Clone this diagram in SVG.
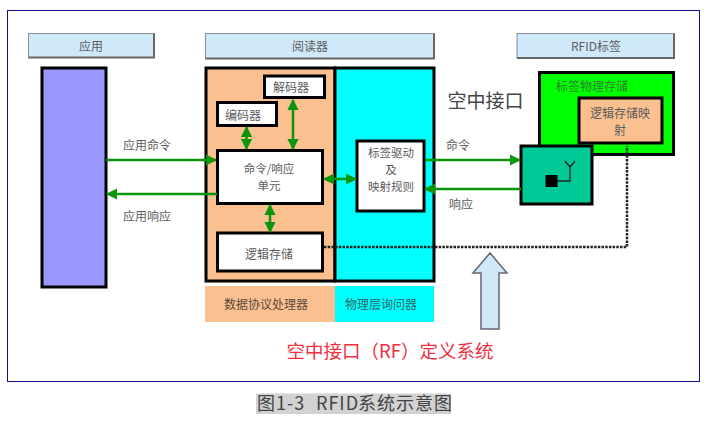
<svg xmlns="http://www.w3.org/2000/svg" width="708" height="425" viewBox="0 0 708 425">
<style>
text{font-family:"Noto Sans CJK SC","Liberation Sans",sans-serif;fill:#5c5c5c;text-anchor:middle}
.hdr{fill:#cfe8fa;stroke:#8a8f94;stroke-width:1}
.sh{fill:none;stroke:#666;stroke-width:2}
.box{fill:#fff;stroke:#000;stroke-width:3}
.blk{stroke:#000;stroke-width:3}
.c{stroke:#0a950a;stroke-width:2.500;fill:none}
.dot{stroke:#222;stroke-width:2.500;stroke-dasharray:2.500 1.200;fill:none}
.t{font-size:12px}
</style>
<defs>
<marker id="a" viewBox="0 0 10 10" refX="9" refY="5" markerWidth="4.600" markerHeight="4.600" orient="auto-start-reverse"><path d="M0 0L10 5L0 10z" fill="#0a950a"/></marker>
</defs>
<rect id="frame" x="7.500" y="10.500" width="692" height="371" fill="#fff" stroke="#10108a"/>
<g id="hdr-app"><rect class="hdr" x="28.500" y="33.500" width="125.500" height="24"/><path class="sh" d="M154 33.500V57.500H28.500"/><text class="t" x="91" y="51">应用</text></g>
<g id="hdr-reader"><rect class="hdr" x="205.500" y="33.500" width="228.500" height="25"/><path class="sh" d="M434 33.500V58.500H205.500"/><text class="t" x="310" y="51">阅读器</text></g>
<g id="hdr-tag"><rect class="hdr" x="517" y="33.500" width="157" height="24.500"/><path class="sh" d="M674 33.500V58H517"/><text class="t" x="596" y="51">RFID标签</text></g>
<g id="app"><rect class="blk" x="42" y="68" width="64" height="219" fill="#9999ff"/></g>
<g id="processor"><rect class="blk" x="206" y="68" width="129" height="213" fill="#fac090"/></g>
<g id="interrogator"><rect class="blk" x="335" y="68" width="99" height="213" fill="#00ffff"/></g>
<g id="decoder"><rect class="box" x="264.500" y="76" width="60" height="21.500"/><text class="t" x="291" y="92">解码器</text></g>
<g id="encoder"><rect class="box" x="217.500" y="102.500" width="59" height="23"/><text class="t" x="243" y="120">编码器</text></g>
<g id="cmd-unit"><rect class="box" x="217.500" y="150.500" width="105" height="53"/><text x="269" y="173" style="font-size:11.500px">命令/响应</text><text x="269" y="190" style="font-size:11.500px">单元</text></g>
<g id="logic"><rect class="box" x="217.500" y="233" width="105" height="38"/><text class="t" x="269" y="259">逻辑存储</text></g>
<g id="driver"><rect class="box" x="357" y="141" width="67" height="70"/><text x="391" y="157" style="font-size:11.500px">标签驱动</text><text x="391" y="174" style="font-size:11.500px">及</text><text x="391" y="191" style="font-size:11.500px">映射规则</text></g>
<g id="tag-mem"><rect class="blk" x="539.500" y="72.500" width="134" height="82" fill="#00ff00"/><text class="t" x="592" y="91" style="fill:#2f7f2f">标签物理存储</text></g>
<g id="logic-map"><rect class="blk" x="579" y="98" width="83" height="45" fill="#fac090"/><text class="t" x="620" y="118">逻辑存储映</text><text class="t" x="620" y="135">射</text></g>
<g id="antenna"><rect class="blk" x="521" y="146" width="71" height="58" fill="#00c896"/><rect x="545.500" y="175" width="12" height="12" fill="#000"/><path d="M557 181H570V165M565 161L570 167L575 161" fill="none" stroke="#222" stroke-width="1.300"/></g>
<g id="labels">
<text x="485.500" y="108" style="font-size:19px;fill:#444">空中接口</text>
<text class="t" x="147" y="150">应用命令</text>
<text class="t" x="147" y="221">应用响应</text>
<text class="t" x="458" y="150">命令</text>
<text class="t" x="461" y="209">响应</text>
</g>
<g id="bar-processor"><rect x="205" y="286" width="130" height="36" fill="#fac090"/><text class="t" x="266" y="309" style="fill:#5a4a3a">数据协议处理器</text></g>
<g id="bar-interrogator"><rect x="335" y="286" width="99" height="36" fill="#00ffff"/><text class="t" x="381" y="309" style="fill:#30686a">物理层询问器</text></g>
<g id="connectors">
<path class="c" d="M106 160H216" marker-end="url(#a)"/>
<path class="c" d="M217 194H107" marker-end="url(#a)"/>
<path class="c" d="M246.500 127V149" marker-start="url(#a)" marker-end="url(#a)"/>
<path class="c" d="M293 100V149" marker-start="url(#a)" marker-end="url(#a)"/>
<path class="c" d="M270 205V232" marker-start="url(#a)" marker-end="url(#a)"/>
<path class="c" d="M324 179H356" marker-start="url(#a)" marker-end="url(#a)"/>
<path class="c" d="M425 160H520" marker-end="url(#a)"/>
<path class="c" d="M521 189H425" marker-end="url(#a)"/>
<path class="dot" d="M324 247H627V146"/>
</g>
<g id="air-arrow"><path d="M481 329V273H473L490 253L507 273H499V329z" fill="#cfe8fa" stroke="#667" stroke-width="1.500"/></g>
<text id="rf-title" x="390" y="358" style="font-size:18.500px;fill:#f03040">空中接口（RF）定义系统</text>
<g id="caption"><rect x="256" y="393.500" width="195" height="20.500" fill="#d2d2d2"/><text y="410" style="font-size:18px;fill:#444;text-anchor:start;letter-spacing:1px"><tspan x="257">图1-3</tspan><tspan x="316">RFID</tspan><tspan x="358">系统示意图</tspan></text></g>
</svg>
